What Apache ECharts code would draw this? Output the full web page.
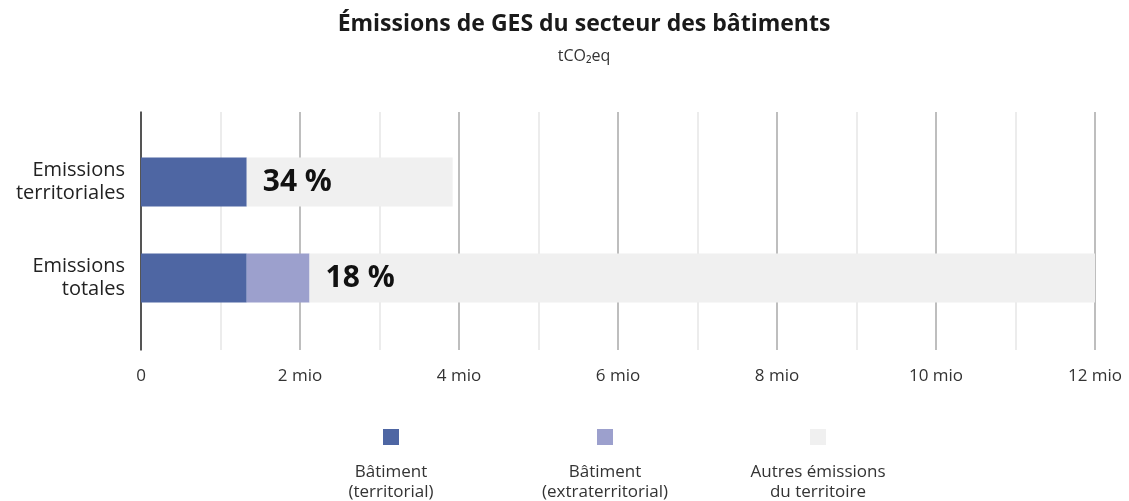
<!DOCTYPE html>
<html><head><meta charset="utf-8">
<script src="https://cdn.jsdelivr.net/npm/echarts@6/dist/echarts.min.js"></script>
<style>html,body{margin:0;padding:0;background:#fff}#c{width:1129px;height:501px}</style>
</head><body><div id="c"></div>
<script>
const categories = ['Emissions\nterritoriales', 'Emissions\ntotales'];
const batimentTerritorial = [1.33, 1.33];
const batimentExtraterritorial = [0, 0.79];
const autresEmissions = [2.59, 9.91];
const shareLabels = ['34 %', '18 %'];
const xTicks = [0, 2, 4, 6, 8, 10, 12];
const legendNames = ['Bâtiment (territorial)', 'Bâtiment (extraterritorial)', 'Autres émissions du territoire'];
const legendLines = [['Bâtiment', '(territorial)'], ['Bâtiment', '(extraterritorial)'], ['Autres émissions', 'du territoire']];
const colors = ['#4e66a3', '#9ca0cd', '#f0f0f0'];
const FONT = 'Open Sans';

const chart = echarts.init(document.getElementById('c'));
const legendCenters = [391, 605, 818];
const option = {
  animation: false,
  textStyle: { fontFamily: FONT },
  title: {
    text: 'Émissions de GES du secteur des bâtiments',
    subtext: 'tCO₂eq',
    left: 579, top: 8, textAlign: 'center', itemGap: 12,
    textStyle: { fontFamily: FONT, fontSize: 23, fontWeight: 'bold', color: '#1a1a1a' },
    subtextStyle: { fontFamily: FONT, fontSize: 16, color: '#333' }
  },
  grid: [
    { left: 141, right: 34, top: 134, height: 192 },
    { left: 141, right: 34, top: 112, height: 238 }
  ],
  xAxis: [
    { gridIndex: 0, type: 'value', min: 0, max: 12, show: false },
    { gridIndex: 1, type: 'value', min: 0, max: 12, interval: 2,
      axisLine: { show: false }, axisTick: { show: false },
      axisLabel: { margin: 18, fontSize: 17, color: '#333', fontFamily: FONT,
        formatter: v => xTicks.includes(v) ? (v === 0 ? '0' : v + ' mio') : '' },
      splitLine: { show: true, lineStyle: { color: '#a8a8a8', width: 1.5 } },
      minorTick: { show: false, splitNumber: 2 },
      minorSplitLine: { show: true, lineStyle: { color: '#e6e6e6', width: 1.5 } }
    }
  ],
  yAxis: [
    { gridIndex: 0, type: 'category', data: categories, inverse: true,
      axisLine: { show: false }, axisTick: { show: false },
      axisLabel: { margin: 16, fontSize: 20, color: '#222', lineHeight: 23, align: 'right', fontFamily: FONT } },
    { gridIndex: 1, type: 'value', min: 0, max: 1,
      axisLine: { show: true, lineStyle: { color: '#333', width: 1.5 } },
      axisTick: { show: false }, axisLabel: { show: false }, splitLine: { show: false } }
  ],
  legend: legendNames.map((n, i) => ({
    data: [n], left: legendCenters[i] - 8, top: 429, itemWidth: 16, itemHeight: 16, padding: 0,
    icon: 'rect', selectedMode: false, formatter: () => '', itemGap: 0
  })),
  graphic: legendLines.map((lines, i) => ({
    type: 'text', left: legendCenters[i] - 100, top: 462,
    style: { text: lines.join('\n'), width: 200, align: 'center', x: 100, textAlign: 'center',
      fontSize: 17, lineHeight: 20, fill: '#333', fontFamily: FONT }
  })),
  series: [
    { name: legendNames[0], type: 'bar', stack: 't', xAxisIndex: 0, yAxisIndex: 0, barWidth: 49,
      data: batimentTerritorial, itemStyle: { color: colors[0] } },
    { name: legendNames[1], type: 'bar', stack: 't', xAxisIndex: 0, yAxisIndex: 0, barWidth: 49,
      data: batimentExtraterritorial, itemStyle: { color: colors[1] } },
    { name: legendNames[2], type: 'bar', stack: 't', xAxisIndex: 0, yAxisIndex: 0, barWidth: 49,
      data: autresEmissions, itemStyle: { color: colors[2] },
      label: { show: true, position: 'insideLeft', distance: 16, fontSize: 30, fontWeight: 'bold',
        color: '#111', fontFamily: FONT, formatter: p => shareLabels[p.dataIndex] } }
  ]
};
chart.setOption(option);
</script></body></html>
